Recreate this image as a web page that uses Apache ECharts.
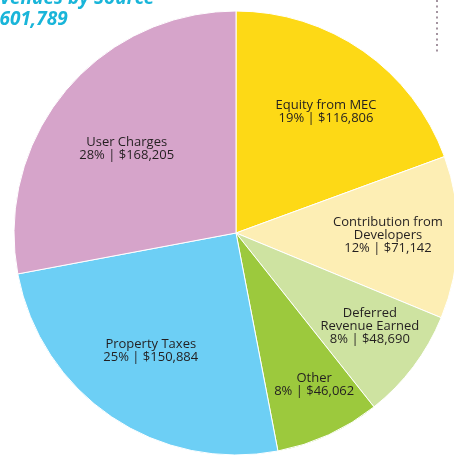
<!DOCTYPE html>
<html>
<head>
<meta charset="utf-8">
<script src="https://cdn.jsdelivr.net/npm/echarts@6/dist/echarts.min.js"></script>
<style>
  html, body { margin: 0; padding: 0; background: #fff; }
  #chart { width: 454px; height: 456px; }
</style>
</head>
<body>
<div id="chart"></div>
<script>
// revenue sources, clockwise from 12 o'clock
const categories = [
  "Equity from MEC",
  "Contribution from\nDevelopers",
  "Deferred\nRevenue Earned",
  "Other",
  "Property Taxes",
  "User Charges"
];
const amounts = [116806, 71142, 48690, 46062, 150884, 168205];
const sliceColors = ["#fdd916", "#fdeeb4", "#cee3a1", "#9cc93d", "#6dcff5", "#d6a4ca"];
const titleLines = ["Revenues by Source", "$601,789"];

// where the labels sit (polar: radius px, angle deg clockwise from top)
const labelSpots = [[151, 36.6], [152, 90.8], [163, 124.8], [171, 152.8], [145, 216], [138, 307.6]];

const cx = 236, cy = 233, R = 222;

const chart = echarts.init(document.getElementById("chart"));

function money(v) {
  return "$" + v.toString().replace(/\B(?=(\d{3})+(?!\d))/g, ",");
}

chart.setOption({
  animation: false,
  graphic: [
    {
      type: "text",
      left: -22,
      top: -11,
      style: {
        text: titleLines[0],
        fill: "#19b5d9",
        font: "italic bold 19px 'Open Sans'"
      }
    },
    {
      type: "text",
      left: -11,
      top: 10,
      style: {
        text: titleLines[1],
        fill: "#19b5d9",
        font: "italic bold 19px 'Open Sans'"
      }
    },
    {
      type: "line",
      shape: { x1: 437, y1: 0, x2: 437, y2: 52 },
      style: { stroke: "#a3939f", lineWidth: 2, lineDash: [2, 3.5] }
    }
  ],
  series: [
    {
      type: "pie",
      center: [cx, cy],
      radius: R,
      startAngle: 90,
      clockwise: true,
      silent: true,
      itemStyle: { borderColor: "#fff", borderWidth: 1 },
      label: {
        show: true,
        position: "inside",
        color: "#231f20",
        fontFamily: "Open Sans",
        fontSize: 13,
        lineHeight: 13,
        align: "center",
        formatter: function (p) {
          return p.name + "\n" + Math.round(p.percent) + "% | " + money(p.value);
        }
      },
      labelLine: { show: false },
      labelLayout: function (p) {
        const s = labelSpots[p.dataIndex];
        const a = s[1] * Math.PI / 180;
        return { x: cx + s[0] * Math.sin(a), y: cy - s[0] * Math.cos(a) };
      },
      data: categories.map(function (name, i) {
        return { name: name, value: amounts[i], itemStyle: { color: sliceColors[i] } };
      })
    }
  ]
});
</script>
</body>
</html>
